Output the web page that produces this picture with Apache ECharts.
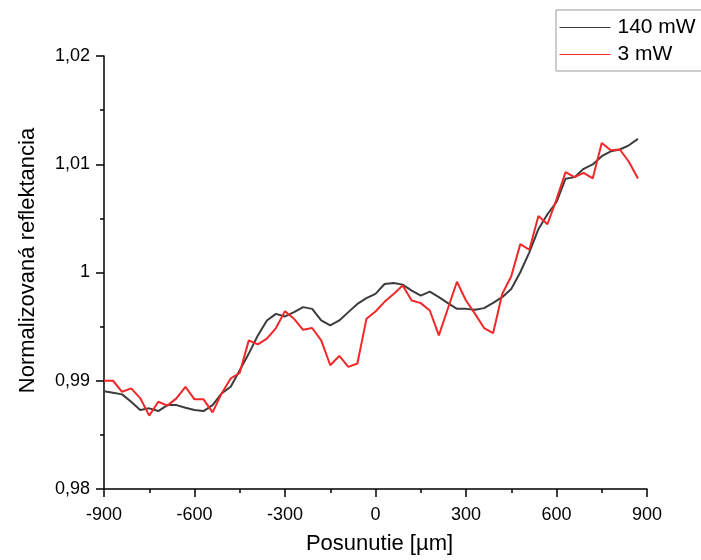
<!DOCTYPE html>
<html>
<head>
<meta charset="utf-8">
<script src="https://cdn.jsdelivr.net/npm/echarts@6/dist/echarts.min.js"></script>
<style>
  html, body { margin: 0; padding: 0; background: #fff; }
  #chart { width: 701px; height: 560px; }
</style>
</head>
<body>
<div id="chart"></div>
<script>
// Scan positions in micrometres: -900 … 870, step 30
const positions = [];
for (let i = 0; i < 60; i++) positions.push(-900 + 30 * i);

const seriesNames = ['140 mW', '3 mW'];

// Normalized reflectance, 140 mW
const refl140 = [
  0.98904, 0.98889, 0.98874, 0.98806, 0.98729, 0.98745, 0.98720, 0.98775, 0.98775, 0.98751,
  0.98729, 0.98720, 0.98775, 0.98883, 0.98944, 0.99097, 0.99251, 0.99419, 0.99557, 0.99618,
  0.99594, 0.99634, 0.99680, 0.99664, 0.99557, 0.99511, 0.99557, 0.99634, 0.99710, 0.99763,
  0.99802, 0.99894, 0.99903, 0.99888, 0.99833, 0.99787, 0.99823, 0.99772, 0.99717, 0.99664,
  0.99664, 0.99655, 0.99671, 0.99720, 0.99772, 0.99848, 1.00002, 1.00186, 1.00400, 1.00538,
  1.00651, 1.00866, 1.00881, 1.00958, 1.00998, 1.01074, 1.01120, 1.01136, 1.01175, 1.01234
];

// Normalized reflectance, 3 mW
const refl3 = [
  0.99000, 0.99000, 0.98898, 0.98929, 0.98840, 0.98678, 0.98806, 0.98770, 0.98837, 0.98944,
  0.98828, 0.98828, 0.98708, 0.98883, 0.99021, 0.99073, 0.99373, 0.99336, 0.99389, 0.99487,
  0.99643, 0.99572, 0.99471, 0.99487, 0.99373, 0.99143, 0.99229, 0.99128, 0.99159, 0.99572,
  0.99640, 0.99729, 0.99802, 0.99879, 0.99741, 0.99717, 0.99649, 0.99419, 0.99667, 0.99915,
  0.99741, 0.99618, 0.99487, 0.99441, 0.99802, 0.99965, 1.00262, 1.00210, 1.00522, 1.00446,
  1.00676, 1.00927, 1.00881, 1.00921, 1.00869, 1.01197, 1.01129, 1.01136, 1.01023, 1.00869
];

const xTicks = { min: -900, max: 900, step: 300 };
const yTicks = { min: 0.98, max: 1.02, step: 0.01 };

const FONT = '"Liberation Sans", Arial, sans-serif';

const pairs = (ys) => positions.map((x, i) => [x, ys[i]]);

const chart = echarts.init(document.getElementById('chart'), null, { renderer: 'canvas' });

const axisCommon = {
  axisLine: { show: true, onZero: false, lineStyle: { color: '#000', width: 1.5 } },
  axisTick: { show: true, inside: false, length: 8, lineStyle: { color: '#000', width: 1.5 } },
  minorTick: { show: true, splitNumber: 2, length: 4, lineStyle: { color: '#000', width: 1.5 } },
  splitLine: { show: false },
  axisLabel: { color: '#000', fontSize: 18, fontFamily: FONT, margin: 14 },
  nameTextStyle: { color: '#000', fontSize: 22, fontFamily: FONT }
};

chart.setOption({
  animation: false,
  backgroundColor: '#fff',
  grid: { left: 104, right: 54, top: 56, bottom: 69, containLabel: false },
  legend: {
    data: seriesNames,
    orient: 'vertical',
    left: 556,
    top: 10,
    itemWidth: 51,
    itemHeight: 20,
    itemGap: 6,
    padding: [7, 40, 6, 3],
    borderColor: '#999',
    borderWidth: 1,
    lineStyle: { width: 1 },
    itemStyle: { opacity: 0 },
    textStyle: { color: '#000', fontSize: 21, fontFamily: FONT, padding: [0, 0, 0, 2] }
  },
  xAxis: Object.assign({}, axisCommon, {
    type: 'value',
    min: xTicks.min,
    max: xTicks.max,
    interval: xTicks.step,
    name: 'Posunutie [µm]',
    nameLocation: 'middle',
    nameGap: 44,
    nameTextStyle: Object.assign({}, axisCommon.nameTextStyle, { padding: [0, 0, 0, 8] }),
    axisLabel: Object.assign({}, axisCommon.axisLabel, { margin: 17 })
  }),
  yAxis: Object.assign({}, axisCommon, {
    type: 'value',
    min: yTicks.min,
    max: yTicks.max,
    interval: yTicks.step,
    name: 'Normalizovaná reflektancia',
    nameLocation: 'middle',
    nameRotate: 90,
    nameGap: 65,
    nameTextStyle: Object.assign({}, axisCommon.nameTextStyle, { padding: [0, 0, 0, 24] }),
    axisLabel: Object.assign({}, axisCommon.axisLabel, {
      formatter: (v) => String(Math.round(v * 100) / 100).replace('.', ',')
    })
  }),
  series: [
    {
      name: seriesNames[0],
      type: 'line',
      data: pairs(refl140),
      symbol: 'none',
      lineStyle: { color: '#3c3c3c', width: 2 },
      itemStyle: { color: '#3c3c3c' },
      z: 2
    },
    {
      name: seriesNames[1],
      type: 'line',
      data: pairs(refl3),
      symbol: 'none',
      lineStyle: { color: '#f02828', width: 2 },
      itemStyle: { color: '#f02828' },
      z: 3
    }
  ]
});
</script>
</body>
</html>
